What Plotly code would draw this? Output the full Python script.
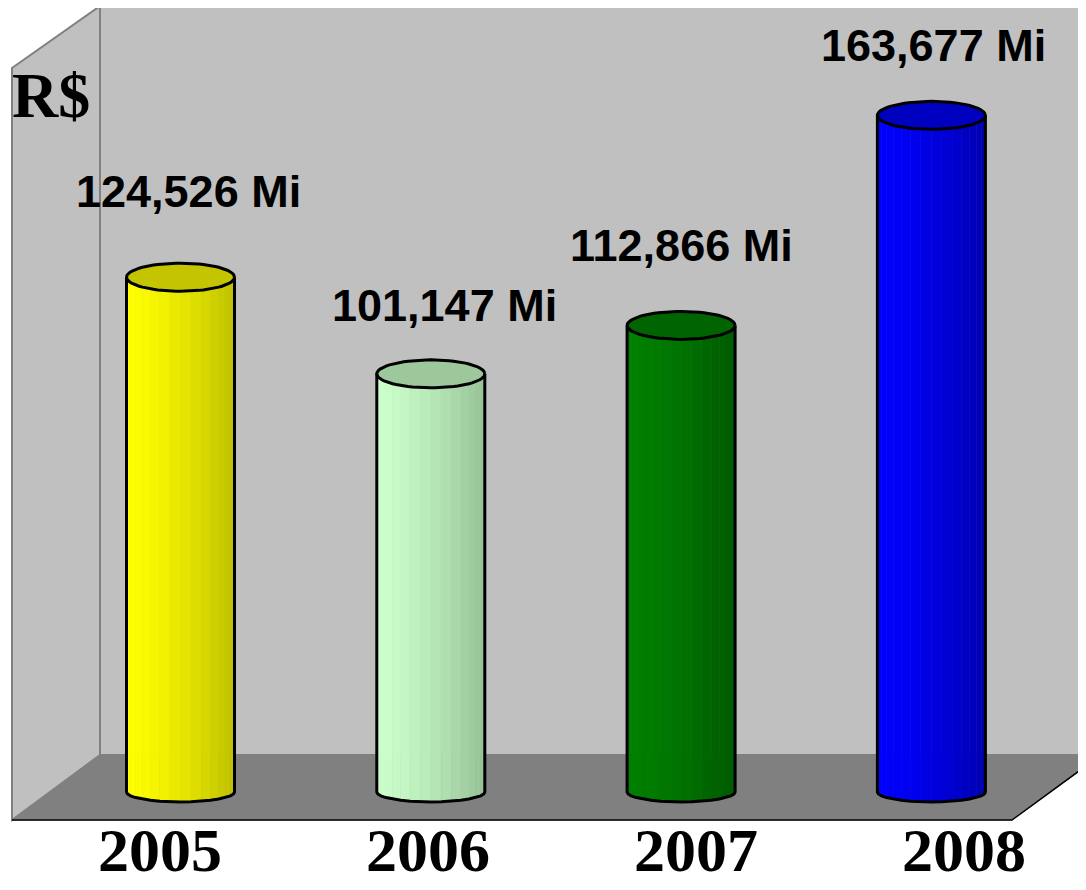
import numpy as np
import plotly.graph_objects as go

# ---- data ----
years = ["2005", "2006", "2007", "2008"]
values = [124.526, 101.147, 112.866, 163.677]
value_labels = ["124,526 Mi", "101,147 Mi", "112,866 Mi", "163,677 Mi"]
unit_label = "R$"

# ---- styles ----
left_colors = ["#ffff00", "#ccffcc", "#008000", "#0000ff"]
right_colors = ["#c0c000", "#96c296", "#005a00", "#0000b0"]
top_colors = ["#c4c400", "#9cc89c", "#006400", "#0000c0"]
label_yshift = [86, 68, 80, 70]
label_xshift = [8, 14, 0, 2]

OFF = 8                      # page body margin
W, H = 1086 - OFF, 890 - OFF
k = 4.134                    # px per unit
y0px = 792 - OFF             # fig px of zero
sp = 250.3                   # px per category
c0 = 180.5 - OFF             # fig px of first category
y_range = [-(H - y0px) / k, y0px / k]
x_range = [-c0 / sp, (W - c0) / sp]
half_w = 54 / sp
ell = 14 / k
ell_b = 10 / k


def hex2rgb(h):
    h = h.lstrip("#")
    return np.array([int(h[i:i + 2], 16) for i in (0, 2, 4)], dtype=float)


def mix(a, b, t):
    c = hex2rgb(a) * (1 - t) + hex2rgb(b) * t
    return "rgb(%d,%d,%d)" % tuple(np.round(c).astype(int))


fig = go.Figure()
N = 16
for i, v in enumerate(values):
    c = i
    th = np.linspace(np.pi, 0, N + 1)
    xs = c + half_w * np.cos(th)
    off_t = -ell * np.sin(th)
    off_b = -ell_b * np.sin(th)
    for j in range(N):
        t = ((xs[j] + xs[j + 1]) / 2 - (c - half_w)) / (2 * half_w)
        col = mix(left_colors[i], right_colors[i], t ** 1.4)
        px_ = [xs[j], xs[j + 1], xs[j + 1], xs[j], xs[j]]
        py_ = [off_b[j], off_b[j + 1], v + off_t[j + 1], v + off_t[j], off_b[j]]
        fig.add_trace(go.Scatter(x=px_, y=py_, mode="lines", fill="toself",
                                 fillcolor=col, line=dict(width=0.6, color=col),
                                 hoverinfo="skip"))
    # top ellipse
    tt = np.linspace(0, 2 * np.pi, 73)
    ex = c + half_w * np.cos(tt)
    ey = v + ell * np.sin(tt)
    fig.add_trace(go.Scatter(x=ex, y=ey, mode="lines", fill="toself",
                             fillcolor=top_colors[i], line=dict(width=0),
                             hoverinfo="skip"))
    # outline
    ox = [c - half_w, c - half_w] + list(xs) + [c + half_w, None] + list(ex)
    oy = [v, 0] + list(off_b) + [v, None] + list(ey)
    fig.add_trace(go.Scatter(x=ox, y=oy, mode="lines",
                             line=dict(color="black", width=3),
                             hoverinfo="skip"))
    fig.add_annotation(x=c, y=v, xref="x", yref="y", text="<b>%s</b>" % value_labels[i],
                       showarrow=False, yshift=label_yshift[i], xshift=label_xshift[i],
                       xanchor="center", yanchor="middle",
                       font=dict(family="Liberation Sans, Arial, sans-serif", size=45,
                                 color="black"))

# year labels on a secondary category scale
yc0 = 160 - OFF
for i, yr in enumerate(years):
    fig.add_annotation(x=i, y=1 - (850 - OFF) / H, xref="x2", yref="paper",
                       text="<b>%s</b>" % yr, showarrow=False,
                       xanchor="center", yanchor="middle",
                       font=dict(family="Liberation Serif, Times New Roman, serif",
                                 size=62, color="black"))

fig.add_annotation(x=(51 - OFF) / W, y=1 - (95 - OFF) / H, xref="paper", yref="paper",
                   text="<b>%s</b>" % unit_label, showarrow=False,
                   xanchor="center", yanchor="middle",
                   font=dict(family="Liberation Serif, Times New Roman, serif",
                             size=64, color="black"))


def P(x, y):
    return "%.5f,%.5f" % ((x - OFF) / W, 1 - (y - OFF) / H)


def path(pts):
    return "M" + " L".join(P(*p) for p in pts) + " Z"


shapes = [
    # back wall
    dict(type="path", path=path([(100, 6), (1100, 6), (1100, 755), (100, 755)]),
         fillcolor="#c0c0c0", line=dict(color="#808080", width=2)),
    # side wall
    dict(type="path", path=path([(12, 68), (100, 6), (100, 755), (12, 820)]),
         fillcolor="#c0c0c0", line=dict(color="#808080", width=2)),
    # floor
    dict(type="path", path=path([(12, 820), (100, 755), (1100, 755), (1100, 756), (1012, 820)]),
         fillcolor="#808080", line=dict(color="#808080", width=1)),
    # floor front edge
    dict(type="path", path="M" + P(12, 820) + " L" + P(1012, 820) + " L" + P(1090, 763),
         line=dict(color="#000000", width=1.5)),
]
for s in shapes:
    s.update(xref="paper", yref="paper", layer="below")
fig.update_layout(shapes=shapes)

fig.update_layout(
    width=W, height=H,
    margin=dict(l=0, r=0, t=0, b=0),
    showlegend=False,
    paper_bgcolor="white",
    plot_bgcolor="rgba(0,0,0,0)",
    xaxis=dict(range=x_range, visible=False, fixedrange=True),
    xaxis2=dict(range=[-yc0 / 268, (W - yc0) / 268], visible=False,
                overlaying="x", fixedrange=True),
    yaxis=dict(range=y_range, visible=False, fixedrange=True),
)

fig.write_html("out.html")
